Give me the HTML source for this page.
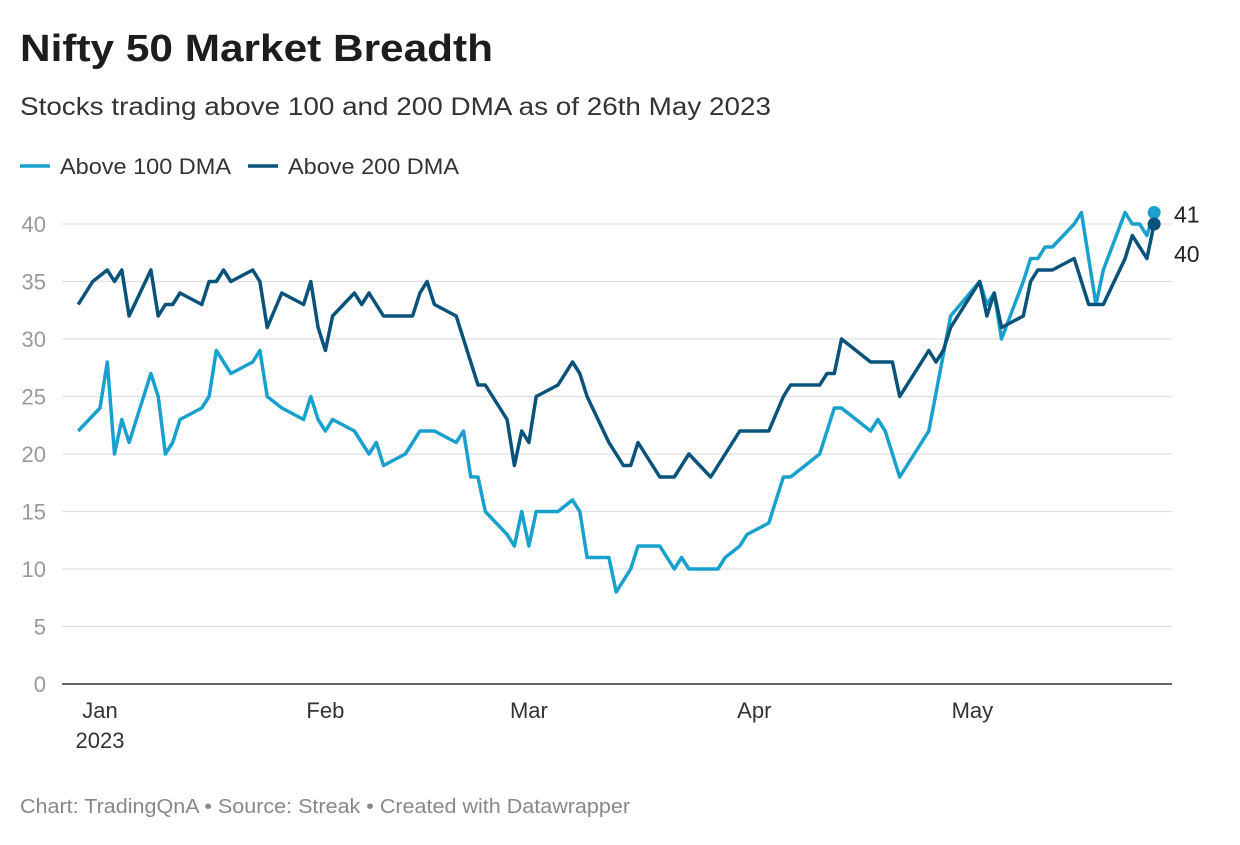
<!DOCTYPE html>
<html><head><meta charset="utf-8">
<style>
body{margin:0;background:#fff;font-family:"Liberation Sans",sans-serif;}
svg text{font-family:"Liberation Sans",sans-serif;}
</style></head>
<body>
<svg width="1240" height="840" xmlns="http://www.w3.org/2000/svg">
<text x="20" y="61" font-size="38" font-weight="bold" fill="#1d1d1d" textLength="473" lengthAdjust="spacingAndGlyphs">Nifty 50 Market Breadth</text>
<text x="20" y="115" font-size="25" fill="#333" textLength="751" lengthAdjust="spacingAndGlyphs">Stocks trading above 100 and 200 DMA as of 26th May 2023</text>
<g>
<line x1="20" y1="166" x2="50" y2="166" stroke="#18a1cd" stroke-width="3.5"/>
<text x="60" y="174" font-size="22" fill="#333" textLength="171" lengthAdjust="spacingAndGlyphs">Above 100 DMA</text>
<line x1="248" y1="166" x2="278" y2="166" stroke="#09537b" stroke-width="3.5"/>
<text x="288" y="174" font-size="22" fill="#333" textLength="171" lengthAdjust="spacingAndGlyphs">Above 200 DMA</text>
</g>
<g id="grid"></g>
<g id="marks"></g>
<text x="20" y="813" font-size="20" fill="#888" textLength="610" lengthAdjust="spacingAndGlyphs">Chart: TradingQnA • Source: Streak • Created with Datawrapper</text>
</svg>
<script>
const yTicks=[0,5,10,15,20,25,30,35,40];
const monthLabels=["Jan","Feb","Mar","Apr","May"];
const monthDays=[0,31,59,90,120];
const days200=[-3,-1,1,2,3,4,7,8,9,10,11,14,15,16,17,18,21,22,23,25,28,29,30,31,32,35,36,37,39,43,44,45,46,49,52,53,56,57,58,59,60,63,65,66,67,70,72,73,74,77,79,81,84,88,92,94,95,99,100,101,102,106,109,110,114,115,116,117,121,122,123,124,127,128,129,131,134,136,138,141,142,144,145];
const vals200=[33,35,36,35,36,32,36,32,33,33,34,33,35,35,36,35,36,35,31,34,33,35,31,29,32,34,33,34,32,32,34,35,33,32,26,26,23,19,22,21,25,26,28,27,25,21,19,19,21,18,18,20,18,22,22,25,26,26,27,27,30,28,28,25,29,28,29,31,35,32,34,31,32,35,36,36,37,33,33,37,39,37,40];
const days100=[-3,0,1,2,3,4,7,8,9,10,11,14,15,16,18,21,22,23,25,28,29,30,31,32,35,37,38,39,42,44,46,49,50,51,52,53,56,57,58,59,60,63,65,66,67,70,71,73,74,77,79,80,81,85,86,88,89,92,94,95,99,101,102,106,107,108,110,114,117,121,122,123,124,127,128,129,130,131,134,135,137,138,141,142,143,144,145];
const vals100=[22,24,28,20,23,21,27,25,20,21,23,24,25,29,27,28,29,25,24,23,25,23,22,23,22,20,21,19,20,22,22,21,22,18,18,15,13,12,15,12,15,15,16,15,11,11,8,10,12,12,10,11,10,10,11,12,13,14,18,18,20,24,24,22,23,22,18,22,32,35,33,34,30,35,37,37,38,38,40,41,33,36,41,40,40,39,41];
const X=d=>100+d*7.27;
const Y=v=>684-v*11.5;
const NS="http://www.w3.org/2000/svg";
const grid=document.getElementById('grid'),marks=document.getElementById('marks');
function mk(tag,attrs,parent){const e=document.createElementNS(NS,tag);for(const k in attrs)e.setAttribute(k,attrs[k]);parent.appendChild(e);return e;}
yTicks.forEach(t=>{
  const l=mk('line',{x1:62,x2:1172,y1:Y(t),y2:Y(t),stroke:t===0?'#333':'#e0e0e0','stroke-width':t===0?1.5:1.3},grid);
  
  
  const tx=mk('text',{x:46,y:Y(t)+8,'font-size':22,fill:'#999','text-anchor':'end'},grid);
  tx.textContent=t;
  
  
});
monthLabels.forEach((m,i)=>{
  const tx=mk('text',{x:X(monthDays[i]),y:718,'font-size':22,fill:'#333','text-anchor':'middle'},grid);
  tx.textContent=m;
  
  
});
const yr=mk('text',{x:X(0),y:748,'font-size':22,fill:'#333','text-anchor':'middle'},grid);
yr.textContent='2023';


function series(days,vals,color,name){
  const pts=days.map((d,i)=>X(d).toFixed(1)+','+Y(vals[i]).toFixed(1)).join(' ');
  const p=mk('polyline',{points:pts,fill:'none',stroke:color,'stroke-width':3.5,'stroke-linejoin':'round'},marks);
  
  
}
series(days100,vals100,'#18a1cd','above-100-dma');
series(days200,vals200,'#09537b','above-200-dma');
const l100=vals100[vals100.length-1],l200=vals200[vals200.length-1];
const c1=mk('circle',{cx:X(days100[days100.length-1]),cy:Y(l100),r:6.5,fill:'#18a1cd'},marks);


const c2=mk('circle',{cx:X(days200[days200.length-1]),cy:Y(l200),r:6.5,fill:'#09537b'},marks);


const t1=mk('text',{x:1174,y:Y(l100)+10,'font-size':23,fill:'#222'},marks);
t1.textContent=l100;


const t2=mk('text',{x:1174,y:Y(l200)+38,'font-size':23,fill:'#222'},marks);
t2.textContent=l200;


</script>
</body></html>
